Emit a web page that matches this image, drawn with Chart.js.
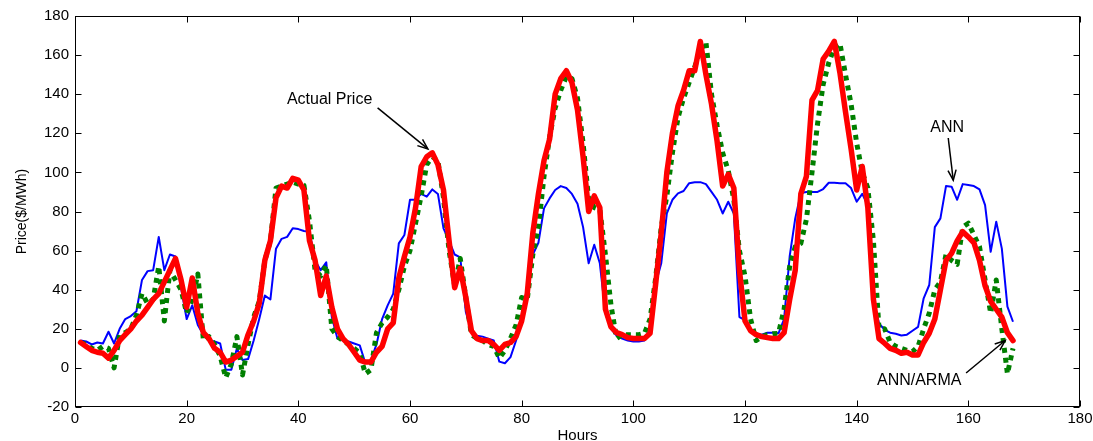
<!DOCTYPE html>
<html><head><meta charset="utf-8">
<script src="https://cdn.jsdelivr.net/npm/chart.js@4.4.0/dist/chart.umd.min.js"></script>
<style>html,body{margin:0;padding:0;background:#fff;overflow:hidden}#wrap{width:1093px;height:441px;position:relative}</style>
</head><body><div id="wrap"><canvas id="c" width="1093" height="441"></canvas></div>
<script>
// ---- data ----
const hours = Array.from({length:168},(_,i)=>i+1);
const actual = [
13,11,9,8,7.5,5,9,14,17,20,
24,27,31,35,38,44,50,56,45,31,
46,28,18,15,10,8,3,4,6,8,
17,24,33,55,65,87,93,92,97,96,
91,65,55,37,47,31,20,15,12,8,
4,3,3,8,11,20,23,46,57,67,
82,103,108,110,104,91,65,41,51,36,
19,15,14,14,12,9,12,13,16,24,
38,69,89,106,117,140,148,152,146,132,
108,80,88,82,30,21,18,17,15.5,15,
15,15,17.7,43,69,100,120,134,142,152,
152,167,150,135,116,93,99,92,50,24,
19,17,16,15.5,15,15,18,35,50,89,
98,137,142,158,162,167,151,131,112,91,
103,82,35,15,12.6,10,9,7.5,8,6.6,
6.6,13,17.7,25,40,55,58.6,65,69.7,67,
64,55,42,34,30,26,18,14
];
const ann = [
14,13.5,12,13,12.5,18.5,12.5,20,25,26.5,
29,45,49.5,50,67,50,58,57,41,25,
32,22,17,14,13.5,12.5,-1,-1,10,4,
4.5,14,25,37,35,61,66,67,71.4,71,
70,69.7,55,50,54,26,15,14,13.5,12.5,
11.5,2.5,4,12,25,32,38,63.7,68,86,
86,89,87.6,91.3,89,71.4,65,58,56.5,28.6,
19,16.5,16,15,14,3.2,2.4,5.5,14,24,
40,58,64,81.6,86.7,91,93,92,89,84,
72,53.5,63,53.5,28,20,16.5,15,14,13.5,
13.5,14,20,43,53.5,79,86,89.3,90.5,94.5,
95,95,94,90,86,79,85,79,26,24.5,
19,17.5,17,18,18,17.7,25,57,76.5,89.5,
90,90,90,91.5,94.7,94.7,94.5,94.4,92,85,
89,83,34.7,22.8,19.5,18,17.5,16.6,17,19,
21,35.6,42.4,72,76.5,93,92.7,86,94,93.5,
93,91.3,83.3,59.4,74.8,61,31.3,23.6
];
const annArma = [
13,12,10,9,11,10,0,17,18,20,
27,38,33,35,52,24,50,45,40,28,
35,48,14,16,12,6,-5,2,16,-3.6,
12,26,34,55,65,92,93,94,95,94,
93.5,75,50,47,52.6,20,16,14,12,10,
7.5,-3,-1,18,23,26,30,40,52,60,
74,88,104,108,106,87,60,42,56,36,
17,15,14,12,11,5,9,15,22,36,
35,58,72,98,118,133,142,149,148,138,
115,86,82,81,58,32,15,17,17,17,
17,17.7,25,46,72,88,110,128,138,146,
154,162.5,166.8,140,124,110,101,86,60,47,
25,14,16,17,17.5,17.7,30,52,62,63.7,
76,100,125,145,156,164,166,150,135,115,
100,92,65,20,20,13,11,10,9,8.3,
11,20,28,40,44,58,55,53,72,74,
68,62,45,28,45,20,-3,10
];
const xTicks = [0,20,40,60,80,100,120,140,160,180];
const yTicks = [-20,0,20,40,60,80,100,120,140,160,180];
const xTitle = 'Hours';
const yTitle = 'Price($/MWh)';
const notes = [
  {text:'Actual Price', tx:45.6, ty:137, x0:54.2, y0:133, x1:63.2, y1:112},
  {text:'ANN', tx:156.2, ty:122.7, x0:156.4, y0:117.6, x1:157.3, y1:96},
  {text:'ANN/ARMA', tx:151.2, ty:-6.7, x0:159.6, y0:-2.6, x1:166.6, y1:14}
];

const FONT = '"Liberation Sans", Arial, Helvetica, sans-serif';
const pts = arr => hours.map((h,i)=>({x:h,y:arr[i]}));

const boxPlugin = {
  id:'boxPlugin',
  afterDatasetsDraw(chart){
    const {ctx, chartArea:a, scales:{x,y}} = chart;
    ctx.save();
    ctx.strokeStyle='#000'; ctx.lineWidth=1;
    const L=Math.round(a.left)+0.5, R=Math.round(a.right)-0.5, T=Math.round(a.top)+0.5, B=Math.round(a.bottom)-0.5;
    ctx.strokeRect(L,T,R-L,B-T);
    ctx.beginPath();
    xTicks.forEach(v=>{const p=Math.round(x.getPixelForValue(v))+0.5; ctx.moveTo(p,B); ctx.lineTo(p,B-6); ctx.moveTo(p,T); ctx.lineTo(p,T+6);});
    yTicks.forEach(v=>{const p=Math.round(y.getPixelForValue(v))+0.5; ctx.moveTo(L,p); ctx.lineTo(L+6,p); ctx.moveTo(R,p); ctx.lineTo(R-6,p);});
    ctx.stroke();
    // annotations
    ctx.fillStyle='#000';
    ctx.font='16px '+FONT;
    ctx.textAlign='center'; ctx.textBaseline='middle';
    notes.forEach(n=>{
      ctx.fillText(n.text, x.getPixelForValue(n.tx), y.getPixelForValue(n.ty));
      const ax0=x.getPixelForValue(n.x0), ay0=y.getPixelForValue(n.y0);
      const ax1=x.getPixelForValue(n.x1), ay1=y.getPixelForValue(n.y1);
      ctx.lineWidth=1.5;
      ctx.beginPath(); ctx.moveTo(ax0,ay0); ctx.lineTo(ax1,ay1); ctx.stroke();
      const ang=Math.atan2(ay1-ay0, ax1-ax0), hl=11, hw=0.38;
      ctx.beginPath();
      ctx.moveTo(ax1-hl*Math.cos(ang-hw), ay1-hl*Math.sin(ang-hw));
      ctx.lineTo(ax1,ay1);
      ctx.lineTo(ax1-hl*Math.cos(ang+hw), ay1-hl*Math.sin(ang+hw));
      ctx.stroke();
    });
    ctx.restore();
  }
};

new Chart(document.getElementById('c'), {
  type:'line',
  data:{datasets:[
    {label:'Actual Price', data:pts(actual), borderColor:'#ff0000', borderWidth:5.5, pointRadius:0, tension:0, order:1, borderJoinStyle:'round', borderCapStyle:'round'},
    {label:'ANN/ARMA', data:pts(annArma), borderColor:'#007f00', borderWidth:5, borderDash:[5,5], pointRadius:0, tension:0, order:2, borderJoinStyle:'round'},
    {label:'ANN', data:pts(ann), borderColor:'#0000ff', borderWidth:2, pointRadius:0, tension:0, order:3, borderJoinStyle:'round'}
  ]},
  options:{
    responsive:false, animation:false, devicePixelRatio:1,
    layout:{padding:{left:0,right:13,top:16,bottom:0}},
    plugins:{legend:{display:false}, tooltip:{enabled:false}},
    scales:{
      x:{type:'linear', min:0, max:180,
        afterFit(s){s.height=34; s.paddingLeft=0; s.paddingRight=0;},
        afterBuildTicks(s){s.ticks=xTicks.map(v=>({value:v}));},
        grid:{display:false, drawTicks:false}, border:{display:false},
        ticks:{padding:3, color:'#000', font:{family:FONT, size:15}, maxRotation:0, autoSkip:false},
        title:{display:true, text:xTitle, color:'#000', font:{family:FONT, size:15, lineHeight:1}, padding:{top:0,bottom:-2.5}}
      },
      y:{type:'linear', min:-20, max:180,
        afterFit(s){s.width=75; s.paddingTop=0; s.paddingBottom=0;},
        afterBuildTicks(s){s.ticks=yTicks.map(v=>({value:v}));},
        grid:{display:false, drawTicks:false}, border:{display:false},
        ticks:{padding:6, color:'#000', font:{family:FONT, size:15}, autoSkip:false},
        title:{display:true, text:yTitle, color:'#000', font:{family:FONT, size:14, lineHeight:1}, padding:{top:15,bottom:0}}
      }
    }
  },
  plugins:[boxPlugin]
});
</script></body></html>
